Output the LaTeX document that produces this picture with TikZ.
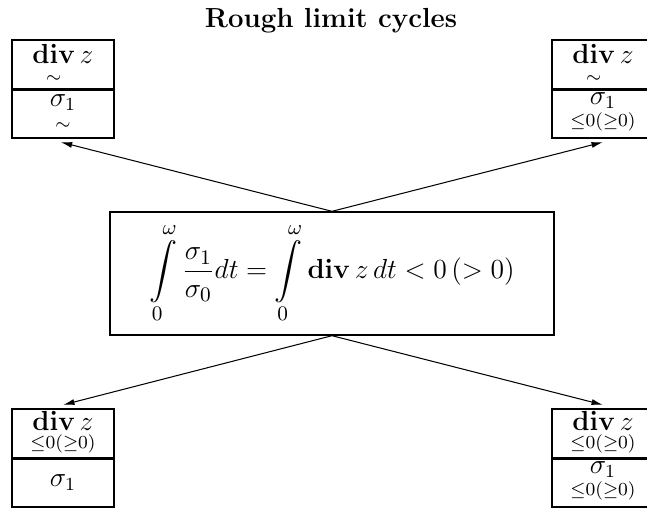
\documentclass[tikz,border=0pt]{standalone}
\usepackage{amsmath}
\usepackage{amssymb}
\usetikzlibrary{arrows.meta, positioning}

\newcommand{\tld}{\rule{0pt}{1.25ex}\sim}

\begin{document}
\begin{tikzpicture}[
    x=0.435pt, y=0.435pt,
    cell/.style   = {
      rectangle, draw, line width=0.6pt,
      minimum width=44.4pt, minimum height=21.3pt,
      inner sep=0pt, align=center,
      font=\fontsize{11.5}{13}\selectfont
    },
    mainbox/.style = {
      rectangle, draw, line width=0.6pt,
      minimum width=193pt, minimum height=53.5pt,
      inner sep=0pt, font=\fontsize{12.2}{14}\selectfont
    },
    divider/.style = {line width=1.1pt},
    arrow/.style   = {-{Latex[length=5pt,width=2.6pt]}, line width=0.45pt},
    ttl/.style     = {font=\fontsize{12}{14}\selectfont\bfseries}
  ]
  \useasboundingbox (0,0) rectangle (647,512);

  % Title
  \node[ttl] at (331,491) (title) {Rough limit cycles};

  % Centre
  \node[mainbox] at (332,238.5) (eq)
    {$\displaystyle\int\limits_0^{\omega}\frac{\sigma_1}{\sigma_0}dt
      =\int\limits_0^{\omega}\mathbf{div}\,z\,dt<0\,(>0)$};

  % Top left
  \node[cell] at (63,447.5) (tlA) {$\underset{\tld}{\mathbf{div}}\,z$};
  \node[cell] at (63,398.5) (tlB) {$\underset{\tld}{\sigma_1}$};
  \draw[divider] (tlA.south west) -- (tlA.south east);

  % Top right
  \node[cell] at (603,447.5) (trA) {$\underset{\tld}{\mathbf{div}}\,z$};
  \node[cell] at (603,398.5) (trB) {$\underset{\le 0(\ge 0)}{\sigma_1}$};
  \draw[divider] (trA.south west) -- (trA.south east);

  % Bottom left
  \node[cell] at (63,78.5) (blA) {$\underset{\le 0(\ge 0)}{\mathbf{div}\,z}$};
  \node[cell] at (63,29.5) (blB) {$\sigma_1$};
  \draw[divider] (blA.south west) -- (blA.south east);

  % Bottom right
  \node[cell] at (603,78.5) (brA) {$\underset{\le 0(\ge 0)}{\mathbf{div}\,z}$};
  \node[cell] at (603,29.5) (brB) {$\underset{\le 0(\ge 0)}{\sigma_1}$};
  \draw[divider] (brA.south west) -- (brA.south east);

  % Arrows
  \draw[arrow] (eq.north) -- ([xshift=-1pt,yshift=-1.5pt]tlB.south);
  \draw[arrow] (eq.north) -- ([yshift=-1.5pt]trB.south);
  \draw[arrow] (eq.south) -- ([yshift=1.5pt]blA.north);
  \draw[arrow] (eq.south) -- ([yshift=1.5pt]brA.north);
\end{tikzpicture}
\end{document}
